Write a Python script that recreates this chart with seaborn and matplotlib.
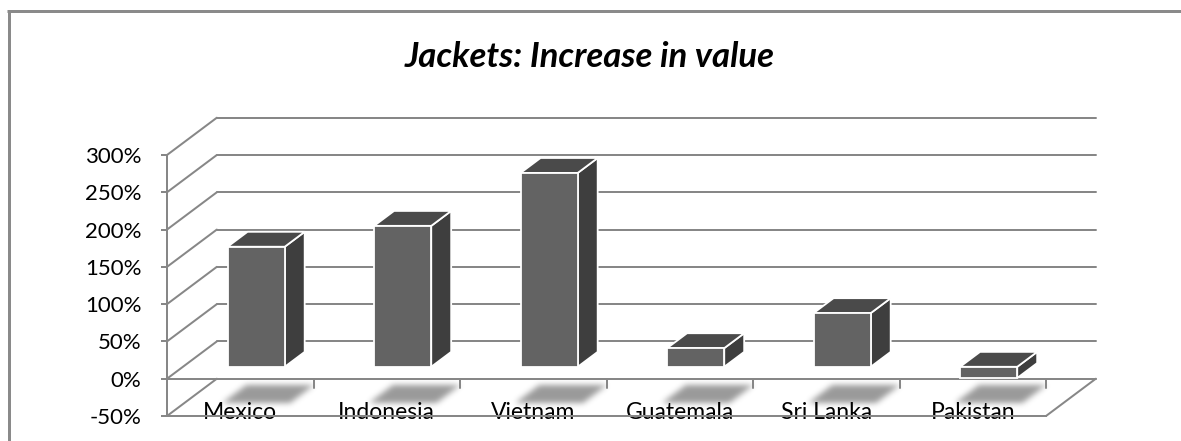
import numpy as np
import matplotlib
matplotlib.use("Agg")
import matplotlib.pyplot as plt
import matplotlib.transforms as mtransforms
from matplotlib.patches import Polygon
from matplotlib.lines import Line2D
from matplotlib.path import Path
import seaborn as sns

# ---------------- data ----------------
categories = ["Mexico", "Indonesia", "Vietnam", "Guatemala", "Sri Lanka", "Pakistan"]
values = [161, 189, 260, 25, 72, -15]
y_ticks = [-50, 0, 50, 100, 150, 200, 250, 300]
y_tick_labels = ["-50%", "0%", "50%", "100%", "150%", "200%", "250%", "300%"]
title = "Jackets: Increase in value"

# ---------------- style ----------------
sns.set_theme(style="white")
plt.rcParams['font.family'] = ['Lato', 'DejaVu Sans']

W, H = 1181, 441
DPI = 100
GRID = "#878787"
FRONT = "#636363"
SIDE = "#3e3e3e"
TOP = "#4a4a4a"
DEPTH_X, DEPTH_Y = 0.34, 50.0      # depth of the 3-D box in data units
BAR_F0, BAR_DEPTH = 0.32, 0.40     # bar position inside the depth (fraction)

fig = plt.figure(figsize=(W / DPI, H / DPI), dpi=DPI)
fig.patch.set_facecolor("white")
ax = fig.add_axes([167 / W, 25 / H, (1046 - 167) / W, (416 - 155) / H])
ax.patch.set_alpha(0)

sns.barplot(x=categories, y=values, color=FRONT, width=0.39, ax=ax,
            edgecolor="white", linewidth=1.3, saturation=1, zorder=5)
ax.set_xlim(-0.5, 5.5)
ax.set_ylim(-50, 300)
ax.set_xlabel("")
ax.set_ylabel("")

lw = 2 * 72 / DPI
# spines: front vertical axis and front floor edge
for s in ["top", "right"]:
    ax.spines[s].set_visible(False)
for s in ["left", "bottom"]:
    ax.spines[s].set_visible(True)
    ax.spines[s].set_color(GRID)
    ax.spines[s].set_linewidth(lw)
ax.set_yticks(y_ticks)
ax.set_yticklabels(y_tick_labels)
ax.tick_params(axis="y", direction="out", length=6 * 72 / DPI, width=lw,
               color=GRID, pad=14, labelsize=16, labelcolor="black", left=True)
ax.tick_params(axis="x", length=0, pad=-10, labelsize=16.5, labelcolor="black")
for lab in ax.get_xticklabels():
    lab.set_zorder(20)

# back wall gridlines and side-wall diagonals
for v in y_ticks:
    ax.add_line(Line2D([-0.5 + DEPTH_X, 5.5 + DEPTH_X], [v + DEPTH_Y, v + DEPTH_Y],
                       color=GRID, lw=lw, clip_on=False, zorder=1))
    ax.add_line(Line2D([-0.5, -0.5 + DEPTH_X], [v, v + DEPTH_Y],
                       color=GRID, lw=lw, clip_on=False, zorder=1))
# right edge of floor
ax.add_line(Line2D([5.5, 5.5 + DEPTH_X], [-50, -50 + DEPTH_Y],
                   color=GRID, lw=lw, clip_on=False, zorder=1))
# category axis at 0 with tick marks
ax.add_line(Line2D([-0.5, 5.5], [0, 0], color=GRID, lw=lw, clip_on=False, zorder=2))
for b in np.arange(0.5, 6.0, 1.0):
    ax.add_line(Line2D([b, b], [0, -12], color=GRID, lw=lw, clip_on=False, zorder=2))

# 3-D bars: shift front faces into depth, add top & side faces
ox, oy = BAR_F0 * DEPTH_X, BAR_F0 * DEPTH_Y
bx, by = BAR_DEPTH * DEPTH_X, BAR_DEPTH * DEPTH_Y
shift = mtransforms.Affine2D().translate(ox, oy) + ax.transData
bars = [p for p in ax.patches]
for p in bars:
    x0 = p.get_x()
    x1 = x0 + p.get_width()
    y0 = p.get_y()
    y1 = y0 + p.get_height()
    lo, hi = min(y0, y1), max(y0, y1)
    p.set_transform(shift)
    p.set_clip_on(False)
    side = [(x1 + ox, lo + oy), (x1 + ox, hi + oy),
            (x1 + ox + bx, hi + oy + by), (x1 + ox + bx, lo + oy + by)]
    top = [(x0 + ox, hi + oy), (x1 + ox, hi + oy),
           (x1 + ox + bx, hi + oy + by), (x0 + ox + bx, hi + oy + by)]
    ax.add_patch(Polygon(side, closed=True, facecolor=SIDE, edgecolor="white",
                         lw=1.3, clip_on=False, zorder=4))
    ax.add_patch(Polygon(top, closed=True, facecolor=TOP, edgecolor="white",
                         lw=1.3, clip_on=False, zorder=4))

# soft shadows on the floor
fig.canvas.draw()
yy, xx = np.mgrid[0:H, 0:W]
pts = np.column_stack([xx.ravel() + 0.5, (H - yy.ravel() - 0.5)])
mask = np.zeros(H * W)
for i in range(len(categories)):
    quad = []
    for (dx, t) in [(-0.24, 0.34), (0.22, 0.34), (0.22, 0.82), (-0.24, 0.82)]:
        quad.append((i + dx + t * DEPTH_X, -50 + t * DEPTH_Y))
    disp = ax.transData.transform(quad)
    mask[Path(disp).contains_points(pts)] = 1.0
mask = mask.reshape(H, W)
sig = 3.0
k = np.arange(-10, 11)
g = np.exp(-k ** 2 / (2 * sig ** 2))
g /= g.sum()
mask = np.apply_along_axis(lambda r: np.convolve(r, g, mode="same"), 1, mask)
mask = np.apply_along_axis(lambda c: np.convolve(c, g, mode="same"), 0, mask)
img = np.zeros((H, W, 4))
img[..., :3] = 0.0
img[..., 3] = np.clip(mask, 0, 1) * 0.40
fig.figimage(img, xo=0, yo=0, origin="upper", zorder=-1)

# title
fig.text(590 / W, 1 - 57 / H, title, ha="center", va="center",
         fontsize=25, fontweight="bold", fontstyle="italic", color="black")

# outer chart frame (left and top edges)
fw = 3 * 72 / DPI
fig.add_artist(Line2D([8.5 / W, 8.5 / W], [0, 1 - 11 / H], color="#8a8a8a", lw=fw,
                      transform=fig.transFigure, solid_capstyle="butt"))
fig.add_artist(Line2D([7 / W, 1], [1 - 11 / H, 1 - 11 / H], color="#8a8a8a",
                      lw=fw, transform=fig.transFigure, solid_capstyle="butt"))

fig.savefig("out.png", dpi=DPI, facecolor="white")
